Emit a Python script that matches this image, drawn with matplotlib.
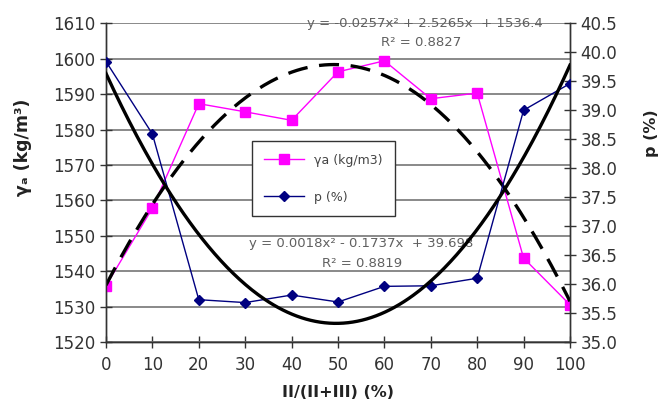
import numpy as np
import matplotlib
matplotlib.use('Agg')
import matplotlib.pyplot as plt

# data
ratio = [0, 10, 20, 30, 40, 50, 60, 70, 80, 90, 100]
gamma_a = [1535.9, 1557.8, 1587.3, 1585.0, 1582.6, 1596.3, 1599.4, 1588.7, 1590.3, 1543.7, 1530.5]
p_pct = [39.84, 38.59, 35.73, 35.68, 35.81, 35.69, 35.96, 35.97, 36.10, 39.0, 39.46]

eq_gamma = 'y = -0.0257x² + 2.5265x  + 1536.4'
r2_gamma = 'R² = 0.8827'
eq_p = 'y = 0.0018x² - 0.1737x  + 39.698'
r2_p = 'R² = 0.8819'

plt.rcParams['font.family'] = ['DejaVu Sans']

fig = plt.figure(figsize=(6.6, 4.03), dpi=100)
ax1 = fig.add_axes([0.1606, 0.1514, 0.7030, 0.7908])
ax2 = ax1.twinx()

# polynomial trendlines (2nd order), as the spreadsheet draws them
xs = np.linspace(0, 100, 300)
fit_g = np.polyfit(ratio, gamma_a, 2)
fit_p = np.polyfit(ratio, p_pct, 2)

ax1.plot(ratio, gamma_a, color='#ff00ff', lw=1.0, marker='s', ms=7,
         label='γa (kg/m3)', zorder=3)
ax1.plot(xs, np.polyval(fit_g, xs), color='black', lw=2.4,
         dashes=(6, 3.5), zorder=4)

ax2.plot(ratio, p_pct, color='#000080', lw=1.0, marker='D', ms=5.5,
         label='p (%)', zorder=3)
ax2.plot(xs, np.polyval(fit_p, xs), color='black', lw=2.4, zorder=4)

ax1.set_xlim(0, 100)
ax1.set_ylim(1520, 1610)
ax2.set_ylim(35.0, 40.5)
ax1.set_xticks(ratio)
ax1.set_yticks(np.arange(1520, 1611, 10))
ax2.set_yticks(np.arange(35.0, 40.51, 0.5))
ax2.set_yticklabels(['%.1f' % v for v in np.arange(35.0, 40.51, 0.5)])

ax1.grid(axis='y', color='#808080', lw=1.3)
ax1.set_axisbelow(True)

for ax in (ax1, ax2):
    for s in ax.spines.values():
        s.set_color('#333333')
        s.set_linewidth(1.0)
    ax.spines['top'].set_visible(False)
    ax.tick_params(labelsize=12, labelcolor='#333333', color='#333333',
                   direction='inout', length=8, width=1.0)
ax1.tick_params(axis='x', pad=6)

ax1.set_xlabel('II/(II+III) (%)', fontsize=11.5, fontweight='bold', color='#222222')
ax1.xaxis.label.set_va('center')
ax1.xaxis.set_label_coords(0.5, -0.16)
ax1.set_ylabel('γₐ (kg/m³)', fontsize=12.5, fontweight='bold', color='#222222')
ax1.yaxis.label.set_va('center')
ax1.yaxis.set_label_coords(-0.179, 0.612)
ax2.set_ylabel('p (%)', fontsize=11.5, fontweight='bold', color='#222222')
ax2.yaxis.label.set_va('center')
ax2.yaxis.set_label_coords(1.175, 0.656)

ax1.text(68.8, 1610, eq_gamma, fontsize=9.5, color='#606060', ha='center', va='center')
ax1.text(68.0, 1604.6, r2_gamma, fontsize=9.5, color='#606060', ha='center', va='center')
ax1.text(55.0, 1547.8, eq_p, fontsize=9.5, color='#606060', ha='center', va='center')
ax1.text(55.2, 1542.1, r2_p, fontsize=9.5, color='#606060', ha='center', va='center')

h1, l1 = ax1.get_legend_handles_labels()
h2, l2 = ax2.get_legend_handles_labels()
leg = ax2.legend(h1 + h2, l1 + l2, loc='center', bbox_to_anchor=(0.469, 0.5125),
                 fontsize=9, labelspacing=1.9, handlelength=3.2, borderpad=1.0,
                 fancybox=False, framealpha=1, edgecolor='#333333')
for t in leg.get_texts():
    t.set_color('#444444')

fig.savefig('out.png', dpi=100)
